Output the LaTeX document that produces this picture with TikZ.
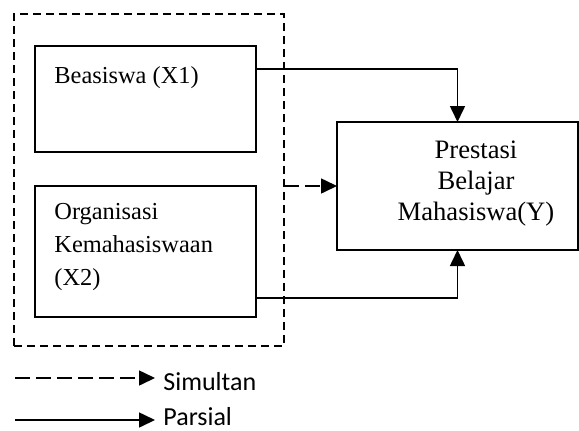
\documentclass[tikz,border=0pt]{standalone}
\usepackage{fontspec}
\setmainfont{Liberation Serif}
\newfontfamily\legendfont{Carlito}
\usepackage{tikz}
\usetikzlibrary{arrows.meta,positioning}
\tikzset{
    varbox/.style={
        rectangle,
        draw=black,
        line width=1pt,
        outer sep=0pt,
        inner sep=0pt,
        minimum width=110.5pt
    },
    groupbox/.style={
        rectangle,
        draw=black,
        line width=0.8pt,
        dash pattern=on 4pt off 2.5pt,
        outer sep=0pt,
        minimum width=135pt,
        minimum height=166pt
    },
    varlabel/.style={anchor=base west, inner sep=0pt, align=left, font=\fontsize{12.2}{16.5}\selectfont},
    ylabel/.style={anchor=base, inner sep=0pt, align=center, font=\fontsize{13.3}{15.5}\selectfont},
    legendlabel/.style={anchor=base west, inner sep=0pt, font=\legendfont\fontsize{13}{15}\selectfont},
    parsial/.style={-{Triangle[length=8pt, width=7.5pt]}, line width=0.8pt},
    simultan/.style={parsial, dash pattern=on 7.5pt off 3pt},
}

\begin{document}
\begin{tikzpicture}[x=0.5pt, y=0.5pt]
    \useasboundingbox (0,0) rectangle (579,-430);

    \node[varbox, minimum height=53pt] (x1) at (145.5,-99) {};
    \node[varbox, minimum height=65.5pt, below=17pt of x1] (x2) {};
    \node[groupbox] (grp) at (149,-180) {};
    \node[varbox, minimum width=120.5pt, minimum height=64pt] (y) at (457.5,-186) {};

    % base = baseline of the last line
    \node[varlabel] (x1lbl) at ([shift={(19,-37)}]x1.north west) {Beasiswa (X1)};
    \node[varlabel] (x2lbl) at ([shift={(19,-99)}]x2.north west) {Organisasi\\Kemahasiswaan\\(X2)};
    \node[ylabel] (ylbl) at (476,-220) {Prestasi\\Belajar\\Mahasiswa(Y)};

    \draw[parsial] ([yshift=-11.5pt]x1.north east) -| (y.north);
    \draw[parsial] ([yshift=9.5pt]x2.south east) -| (y.south);
    \draw[simultan] (grp.east |- y.west) -- (y.west);

    % keterangan
    \coordinate (simstart) at (15,-378);
    \coordinate (simend) at (155,-378);
    \coordinate (parstart) at (15,-420);
    \coordinate (parend) at (155,-420);
    \node[legendlabel] (simlbl) at (163,-390) {Simultan};
    \node[legendlabel] (parlbl) at (163,-425) {Parsial};
    \draw[simultan] (simstart) -- (simend);
    \draw[parsial] (parstart) -- (parend);
\end{tikzpicture}
\end{document}
